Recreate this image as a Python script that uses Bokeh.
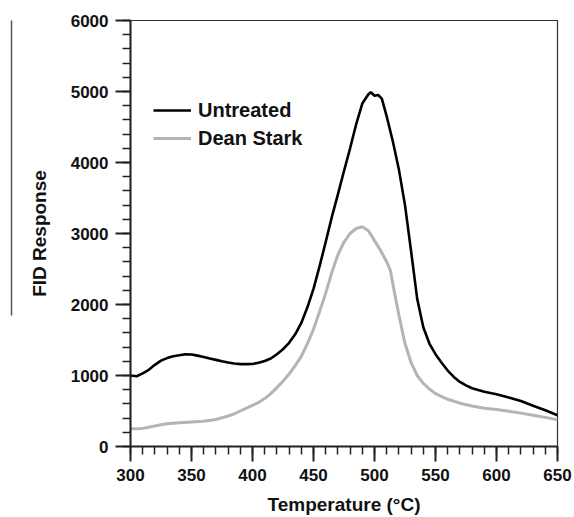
from bokeh.plotting import figure
from bokeh.models import Range1d, Legend, LegendItem, FixedTicker, LinearAxis
from bokeh.embed import file_html
from bokeh.resources import INLINE

# Untreated (black)
temp_untreated = [300, 305, 310, 315, 320, 325, 330, 335, 340, 345, 350, 355, 360, 365, 370,
                  375, 380, 385, 390, 395, 400, 405, 410, 415, 420, 425, 430, 435, 440, 445,
                  450, 455, 460, 465, 470, 475, 480, 485, 490, 495, 497, 500, 503, 506, 510,
                  515, 520, 525, 530, 535, 540, 545, 550, 555, 560, 565, 570, 575, 580, 590,
                  600, 610, 620, 630, 640, 650]
fid_untreated = [1000, 990, 1030, 1080, 1150, 1210, 1245, 1270, 1285, 1300, 1295, 1280, 1262, 1240, 1220,
                 1200, 1182, 1168, 1160, 1160, 1162, 1180, 1205, 1240, 1300, 1370, 1460, 1580, 1740, 1960,
                 2220, 2540, 2880, 3230, 3550, 3880, 4200, 4540, 4830, 4960, 4990, 4940, 4950, 4900, 4650,
                 4300, 3900, 3400, 2750, 2080, 1680, 1450, 1300, 1180, 1070, 980, 910, 860, 820, 770,
                 735, 690, 640, 575, 510, 440]

# Dean Stark (grey)
temp_dean = [300, 305, 310, 315, 320, 325, 330, 340, 350, 360, 370, 380, 385, 390, 395,
             400, 405, 410, 415, 420, 425, 430, 435, 440, 445, 450, 455, 460, 465, 470,
             475, 480, 485, 490, 495, 500, 505, 510, 513, 516, 520, 525, 530, 535, 540,
             545, 550, 560, 570, 580, 590, 600, 610, 620, 630, 640, 650]
fid_dean = [250, 250, 255, 270, 290, 305, 320, 335, 345, 355, 380, 430, 460, 500, 540,
            580, 620, 675, 745, 830, 920, 1020, 1140, 1270, 1450, 1650, 1900, 2160, 2450, 2700,
            2880, 3000, 3070, 3095, 3040, 2900, 2760, 2600, 2480, 2200, 1850, 1450, 1180, 1000, 890,
            810, 745, 665, 610, 570, 540, 520, 495, 470, 440, 410, 375]

x_ticks = [300, 350, 400, 450, 500, 550, 600, 650]
y_ticks = [0, 1000, 2000, 3000, 4000, 5000, 6000]
x_minor = list(range(300, 651, 10))
y_minor = list(range(0, 6001, 200))

p = figure(width=574, height=517, output_backend="svg", toolbar_location=None,
           x_range=Range1d(300, 650), y_range=Range1d(0, 6000),
           min_border_left=130, min_border_right=17, min_border_top=20, min_border_bottom=70)
p.background_fill_color = "white"
p.border_fill_color = "white"
p.grid.visible = False
p.outline_line_color = "#333333"
p.outline_line_width = 1.2

l1 = p.line(temp_untreated, fid_untreated, line_color="black", line_width=2.6)
l2 = p.line(temp_dean, fid_dean, line_color="#b4b4b4", line_width=3)

font = "Liberation Sans"
for ax in (p.xaxis[0], p.yaxis[0]):
    ax.axis_line_width = 2
    ax.axis_line_color = "#222222"
    ax.major_tick_line_width = 2
    ax.major_tick_line_color = "#222222"
    ax.minor_tick_line_width = 1.5
    ax.minor_tick_line_color = "#222222"
    ax.major_tick_in = 0
    ax.major_tick_out = 15
    ax.minor_tick_in = 0
    ax.minor_tick_out = 8
    ax.major_label_text_font = font
    ax.major_label_text_font_style = "bold"
    ax.major_label_text_font_size = "17px"
    ax.major_label_text_color = "#111111"
    ax.axis_label_text_font = font
    ax.axis_label_text_font_style = "bold"
    ax.axis_label_text_font_size = "19px"
    ax.axis_label_text_color = "#111111"

p.xaxis[0].ticker = FixedTicker(ticks=x_ticks, minor_ticks=x_minor)
p.yaxis[0].ticker = FixedTicker(ticks=y_ticks, minor_ticks=y_minor)
p.xaxis[0].axis_label = "Temperature (°C)"
p.yaxis[0].axis_label = "FID Response"
p.xaxis[0].major_label_standoff = 7
p.xaxis[0].axis_label_standoff = 10
p.yaxis[0].major_label_standoff = 7
p.yaxis[0].axis_label_standoff = 18

# invisible spacer axis, then a thin grey rule at the far left (as in the source image)
spacer = LinearAxis(ticker=FixedTicker(ticks=[3000], minor_ticks=[]),
                    axis_line_color=None, major_tick_line_color=None,
                    major_tick_in=0, major_tick_out=14,
                    major_label_overrides={3000: ""},
                    major_label_standoff=0, minor_tick_line_color=None)
p.add_layout(spacer, "left")
rule = LinearAxis(ticker=FixedTicker(ticks=[], minor_ticks=[]),
                  axis_line_color="#555555", axis_line_width=1.5,
                  major_tick_line_color=None, minor_tick_line_color=None,
                  bounds=(1850, 6000))
p.add_layout(rule, "left")

legend = Legend(items=[LegendItem(label="Untreated", renderers=[l1]),
                       LegendItem(label="Dean Stark", renderers=[l2])],
                location=(23, 296), border_line_color=None, background_fill_alpha=0,
                label_text_font=font, label_text_font_style="bold",
                label_text_font_size="20px", label_text_color="#111111",
                glyph_width=38, glyph_height=24, label_height=24,
                label_standoff=7, spacing=4, padding=0, margin=0)
p.add_layout(legend)

open("out.html", "w").write(file_html(p, INLINE))
